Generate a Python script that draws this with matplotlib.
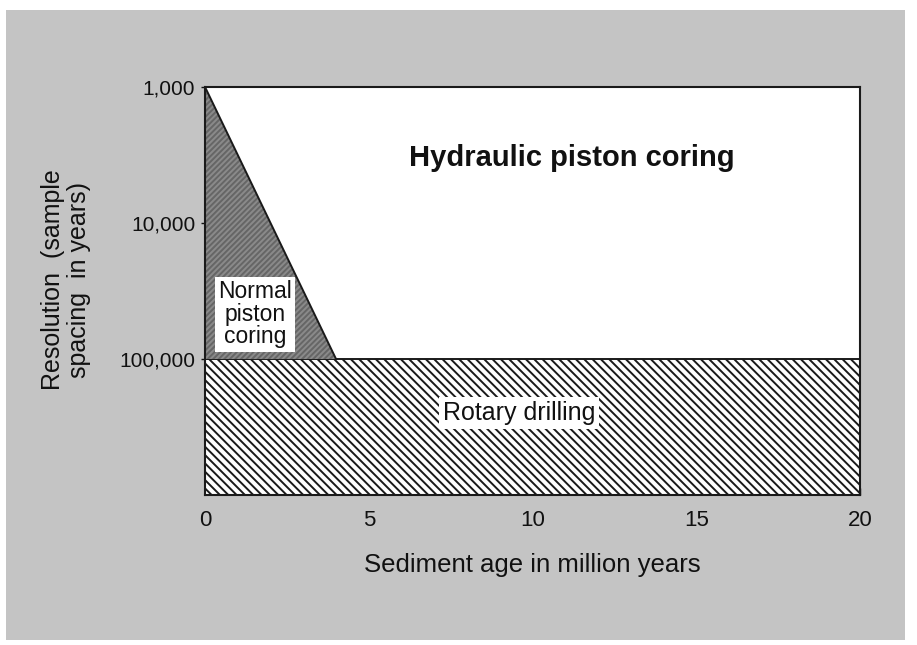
import numpy as np
import matplotlib.pyplot as plt
from matplotlib.patches import Rectangle

plt.rcParams['font.family'] = ['Liberation Sans', 'DejaVu Sans']
plt.rcParams['hatch.linewidth'] = 1.4

# Sediment age (million years) and sample spacing (years)
age_min, age_max = 0, 20
spacing_top, spacing_bottom = 1_000, 1_000_000

# Normal piston coring wedge: best resolution falls off with age
npc_age = [0, 4, 0]
npc_spacing = [1_000, 100_000, 100_000]

# Rotary drilling band
rd_age = [0, 20, 20, 0]
rd_spacing = [100_000, 100_000, 1_000_000, 1_000_000]

x_ticks = [0, 5, 10, 15, 20]
y_ticks = [1_000, 10_000, 100_000]
y_ticklabels = ['1,000', '10,000', '100,000']

fig = plt.figure(figsize=(9.17, 6.45), dpi=100, facecolor='white')
# grey page behind the figure
fig.patches.append(Rectangle((6 / 917, 5 / 645), 899 / 917, 630 / 645,
                             transform=fig.transFigure, facecolor='#c4c4c4',
                             edgecolor='none', zorder=-10))

ax = fig.add_axes([0.2236, 0.2326, 0.7142, 0.6325])
ax.set_facecolor('white')
ax.set_yscale('log')
ax.set_xlim(age_min, age_max)
ax.set_ylim(spacing_bottom, spacing_top)

ax.fill(rd_age, rd_spacing, facecolor='white', edgecolor='#1a1a1a',
        hatch='\\\\\\\\', linewidth=1.4, zorder=2)
ax.fill(npc_age, npc_spacing, facecolor='#8a8a8a', edgecolor='#666666',
        hatch='//////', linewidth=0, zorder=2)
ax.plot(npc_age[:2], npc_spacing[:2], color='#1a1a1a', lw=1.4, zorder=3)

ax.text(11.2, 3_300, 'Hydraulic piston coring', ha='center', va='center',
        fontsize=21, fontweight='bold', color='#111111', zorder=4)
ax.text(1.53, 47_000, 'Normal\npiston\ncoring', ha='center', va='center',
        fontsize=16.5, color='#111111', linespacing=0.97, zorder=4,
        bbox=dict(boxstyle='square,pad=0.15', facecolor='white', edgecolor='none'))
ax.text(9.6, 250_000, 'Rotary drilling', ha='center', va='center',
        fontsize=18, color='#111111', zorder=4,
        bbox=dict(boxstyle='square,pad=0.15', facecolor='white', edgecolor='none'))

ax.set_xticks(x_ticks)
ax.set_xticklabels([str(t) for t in x_ticks])
ax.set_yticks(y_ticks)
ax.set_yticklabels(y_ticklabels)
ax.yaxis.set_minor_locator(plt.NullLocator())
ax.tick_params(axis='x', direction='in', length=5, width=1, pad=11,
               labelsize=16, colors='#111111')
ax.tick_params(axis='y', direction='out', length=3, width=1, pad=4,
               labelsize=15, colors='#111111')
for side in ax.spines.values():
    side.set_linewidth(1.5)
    side.set_color('#1a1a1a')
    side.set_zorder(5)

ax.set_xlabel('Sediment age in million years', fontsize=18.5,
              color='#111111', labelpad=16)
fig.text(53 / 917, 1 - 280 / 645, 'Resolution  (sample', rotation=90,
         ha='center', va='center', fontsize=18, color='#111111')
fig.text(79 / 917, 1 - 280 / 645, 'spacing  in years)', rotation=90,
         ha='center', va='center', fontsize=18, color='#111111')

fig.savefig('out.png', dpi=100, facecolor=fig.get_facecolor())
